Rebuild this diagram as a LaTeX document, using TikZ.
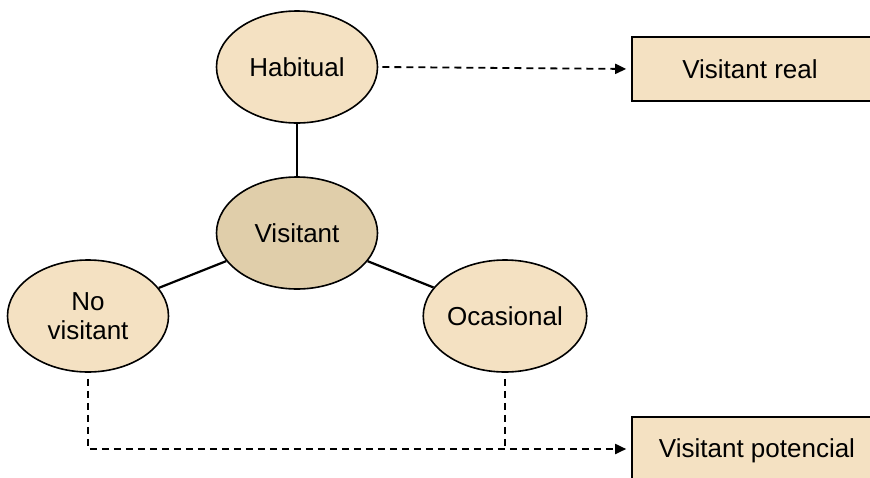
\documentclass[tikz,border=0pt]{standalone}
\usepackage{fontspec}
\setmainfont{Liberation Sans}
\usetikzlibrary{shapes.geometric,arrows.meta}
\definecolor{paleFill}{RGB}{244,225,194}
\definecolor{coreFill}{RGB}{224,206,170}
\begin{document}
\begin{tikzpicture}[x=1pt,y=-1pt,
  every node/.style={font=\fontsize{26}{31}\selectfont, text=black},
  oval/.style={ellipse, draw=black, line width=1.6pt, fill=paleFill,
    minimum width=161pt, minimum height=112pt, inner sep=0pt, align=center},
  card/.style={rectangle, draw=black, line width=1.6pt, fill=paleFill,
    minimum width=240pt, minimum height=64pt, inner sep=0pt},
  link/.style={line width=2.2pt},
  hint/.style={line width=1.8pt, dash pattern=on 7pt off 5pt,
    -{Triangle[length=11pt,width=10pt]}, shorten >=5pt}]
\useasboundingbox (0,0) rectangle (870,477);
\clip (0,0) rectangle (870,477);

% categories of visitors
\node[oval] (hab) at (297,67) {Habitual};
\node[oval, fill=coreFill] (vis) at (297,233) {Visitant};
\node[oval] (nov) at (88,316) {No\\[-2pt]visitant};
\node[oval] (oca) at (505,316) {Ocasional};

% resulting groups
\node[card] (real) at (752,69) {};
\node at (750,69) {Visitant real};
\node[card] (pot) at (752,449) {};
\node at (757,451) {Visitant potencial};

% solid links from the centre
\draw[link] (vis) -- (hab);
\draw[link] (vis) -- (nov);
\draw[link] (vis) -- (oca);

% dashed routes to the groups
\draw[hint] ([xshift=4pt]hab.east) -- (real.west);
\draw[hint] ([yshift=-6pt]nov.south) |- (pot.west);
\draw[hint, -, shorten >=0pt] ([yshift=-6pt]oca.south) -- (oca.south |- pot.west);
\end{tikzpicture}
\end{document}
